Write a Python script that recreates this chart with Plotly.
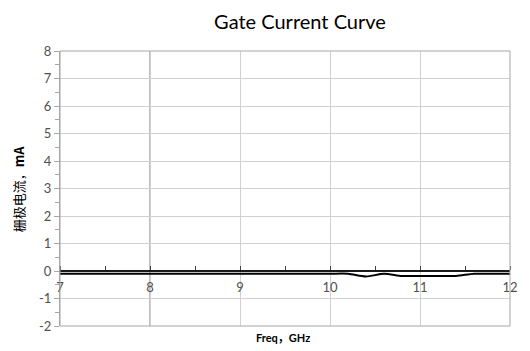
import plotly.graph_objects as go

# Data
freq_ghz = [7.0, 7.2, 7.4, 7.6, 7.8, 8.0, 8.2, 8.4, 8.6, 8.8, 9.0, 9.2, 9.4, 9.6, 9.8,
            10.0, 10.2, 10.4, 10.6, 10.8, 11.0, 11.2, 11.4, 11.6, 11.8, 12.0]
gate_current_ma = [-0.1, -0.1, -0.1, -0.1, -0.1, -0.1, -0.1, -0.1, -0.1, -0.1, -0.1, -0.1, -0.1, -0.1, -0.1,
                   -0.1, -0.1, -0.2, -0.1, -0.18, -0.18, -0.18, -0.18, -0.1, -0.1, -0.1]
x_ticks = [7, 8, 9, 10, 11, 12]
y_ticks = [-2, -1, 0, 1, 2, 3, 4, 5, 6, 7, 8]
title_text = "Gate Current Curve"
x_title = "<b>Freq，GHz</b>"
y_title = "栅极电流，<b>mA</b>"

W, H = 530, 351
L, R, T, B = 60, 12, 51, 25
plot_w = W - L - R
plot_h = H - T - B

fig = go.Figure()
fig.add_trace(go.Scatter(
    x=freq_ghz, y=gate_current_ma, mode="lines",
    line=dict(color="#000000", width=2, shape="spline", smoothing=0.8),
    showlegend=False, hoverinfo="skip"))

font_main = "Lato, 'Open Sans', 'Noto Sans CJK SC', sans-serif"

fig.update_layout(
    width=W, height=H,
    margin=dict(l=L, r=R, t=T, b=B),
    paper_bgcolor="white", plot_bgcolor="white",
    font=dict(family=font_main, color="#505050", size=13),
    title=dict(text=title_text, x=300 / W, xanchor="center", xref="container",
               y=1 - 22 / H, yanchor="middle", yref="container",
               font=dict(size=20, color="#000000", family=font_main)),
    xaxis=dict(
        range=[7, 12], tickvals=x_ticks, ticktext=[str(v) for v in x_ticks],
        anchor="free", position=0.2,
        showline=True, linecolor="#1a1a1a", linewidth=1.5,
        showgrid=True, gridcolor="#d0d0d0", gridwidth=1,
        zeroline=False, ticks="", ticklabelstandoff=5,
        minor=dict(dtick=0.5, tick0=7, ticks="inside", ticklen=4, tickcolor="#404040", showgrid=False),
        tickfont=dict(size=13, color="#505050"),
        fixedrange=True,
    ),
    yaxis=dict(
        range=[-2, 8], tickvals=y_ticks, ticktext=[str(v) for v in y_ticks],
        showline=True, linecolor="#a6a6a6", linewidth=1,
        showgrid=True, gridcolor="#d0d0d0", gridwidth=1,
        zeroline=False, ticks="outside", ticklen=5, tickcolor="#a6a6a6",
        minor=dict(dtick=0.5, tick0=-2, ticks="outside", ticklen=4, tickcolor="#a6a6a6", showgrid=False),
        tickfont=dict(size=13, color="#505050"),
        fixedrange=True,
    ),
    shapes=[
        dict(type="rect", xref="x domain", yref="y domain", x0=0, x1=1, y0=0, y1=1,
             line=dict(color="#a6a6a6", width=1), layer="above"),
        dict(type="line", xref="x", yref="y domain", x0=8, x1=8, y0=0, y1=1,
             line=dict(color="#7f7f7f", width=1), layer="below"),
        dict(type="line", xref="x domain", yref="y", x0=0, x1=1, y0=5, y1=5,
             line=dict(color="#7f7f7f", width=1), layer="below"),
    ],
    annotations=[
        dict(text=x_title, xref="paper", yref="paper", x=(287 - L) / plot_w,
             y=-(337 - (H - B)) / plot_h, xanchor="center", yanchor="middle",
             showarrow=False, font=dict(size=11, color="#000000", family=font_main)),
        dict(text=y_title, xref="paper", yref="paper", x=(18 - L) / plot_w, y=0.5,
             xanchor="center", yanchor="middle", textangle=-90, showarrow=False,
             font=dict(size=13, color="#000000", family="'Noto Sans CJK SC', sans-serif")),
    ],
)

fig.write_html("out.html")
